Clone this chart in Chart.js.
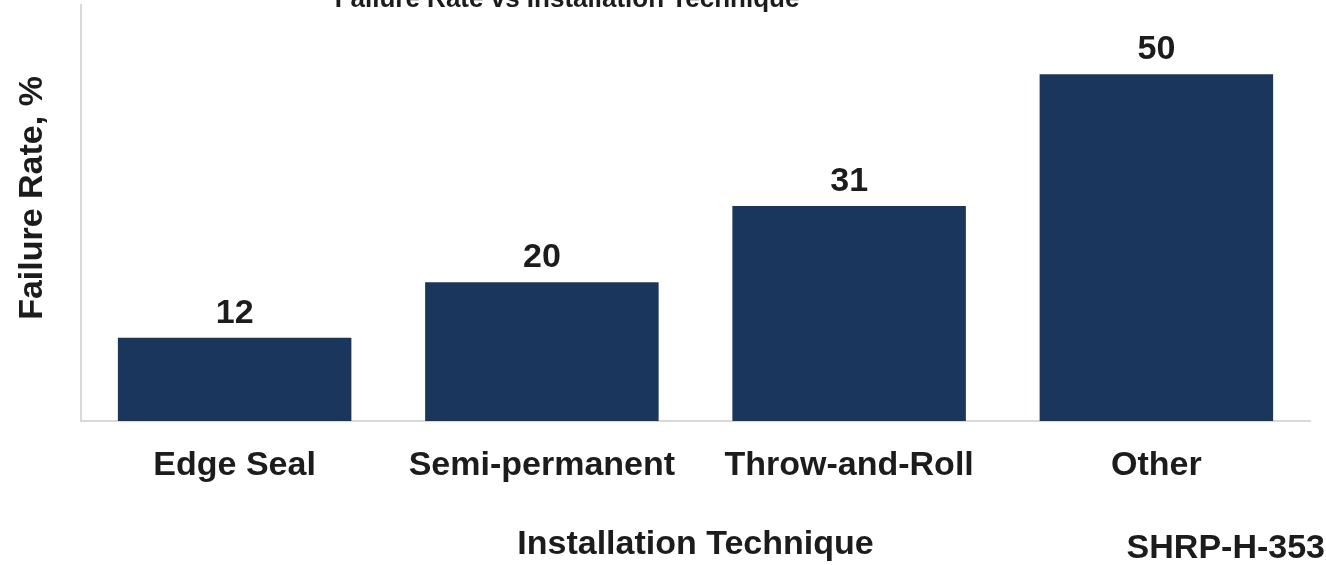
<!DOCTYPE html>
<html>
<head>
<meta charset="utf-8">
<script src="https://cdn.jsdelivr.net/npm/chart.js@4"></script>
<style>
  html, body { margin: 0; padding: 0; background: #fff; }
  #wrap { width: 1326px; height: 565px; }
</style>
</head>
<body>
<div id="wrap"><canvas id="failChart" width="1326" height="565"></canvas></div>
<script>
// データ
const techniques = ['Edge Seal', 'Semi-permanent', 'Throw-and-Roll', 'Other'];
const failureRates = [12, 20, 31, 50];
const yTicks = [0, 60];

const FONT = '"Liberation Sans", Arial, sans-serif';
const TEXT_COLOR = '#1c1c1c';

// タイトル・注記・値ラベル
const extraText = {
    id: 'extraText',
    afterDatasetsDraw(chart) {
        const c = chart.ctx;
        c.save();
        c.fillStyle = TEXT_COLOR;
        c.textAlign = 'center';
        c.textBaseline = 'alphabetic';

        // 値ラベル
        c.font = 'bold 34px ' + FONT;
        const meta = chart.getDatasetMeta(0);
        meta.data.forEach((bar, i) => {
            c.fillText(String(failureRates[i]), bar.x, bar.y - 15);
        });

        // 上部タイトル（切れている）
        c.font = 'bold 26px ' + FONT;
        c.fillText('Failure Rate vs Installation Technique', 567, 7);

        // 出典
        c.font = 'bold 34px ' + FONT;
        c.textAlign = 'right';
        c.fillText('SHRP-H-353', 1325, 558);

        // Y軸タイトル
        c.translate(42, 198);
        c.rotate(-Math.PI / 2);
        c.textAlign = 'center';
        c.fillText('Failure Rate, %', 0, 0);
        c.restore();
    }
};

const ctx = document.getElementById('failChart').getContext('2d');
const failChart = new Chart(ctx, {
    type: 'bar',
    data: {
        labels: techniques,
        datasets: [{
            data: failureRates,
            backgroundColor: '#1a365d',
            borderWidth: 0,
            categoryPercentage: 1.0,
            barPercentage: 0.76
        }]
    },
    options: {
        responsive: false,
        animation: false,
        layout: { padding: { left: 0, right: 16, top: 5, bottom: 0 } },
        plugins: {
            legend: { display: false },
            tooltip: { enabled: false }
        },
        scales: {
            x: {
                grid: { display: false, drawTicks: false },
                border: { display: true, color: '#d9d9d9', width: 2 },
                ticks: {
                    padding: 24,
                    color: TEXT_COLOR,
                    font: { family: FONT, size: 34, weight: 'bold' },
                    maxRotation: 0,
                    autoSkip: false
                },
                title: {
                    display: true,
                    text: 'Installation Technique',
                    color: TEXT_COLOR,
                    font: { family: FONT, size: 34, weight: 'bold' },
                    padding: { top: 0, bottom: 0 }
                },
                afterFit(scale) { scale.height = 144; }
            },
            y: {
                min: yTicks[0],
                max: yTicks[1],
                grid: { display: false, drawTicks: false },
                border: { display: true, color: '#d9d9d9', width: 2 },
                ticks: { display: false },
                afterFit(scale) { scale.width = 81; }
            }
        }
    },
    plugins: [extraText]
});
</script>
</body>
</html>
